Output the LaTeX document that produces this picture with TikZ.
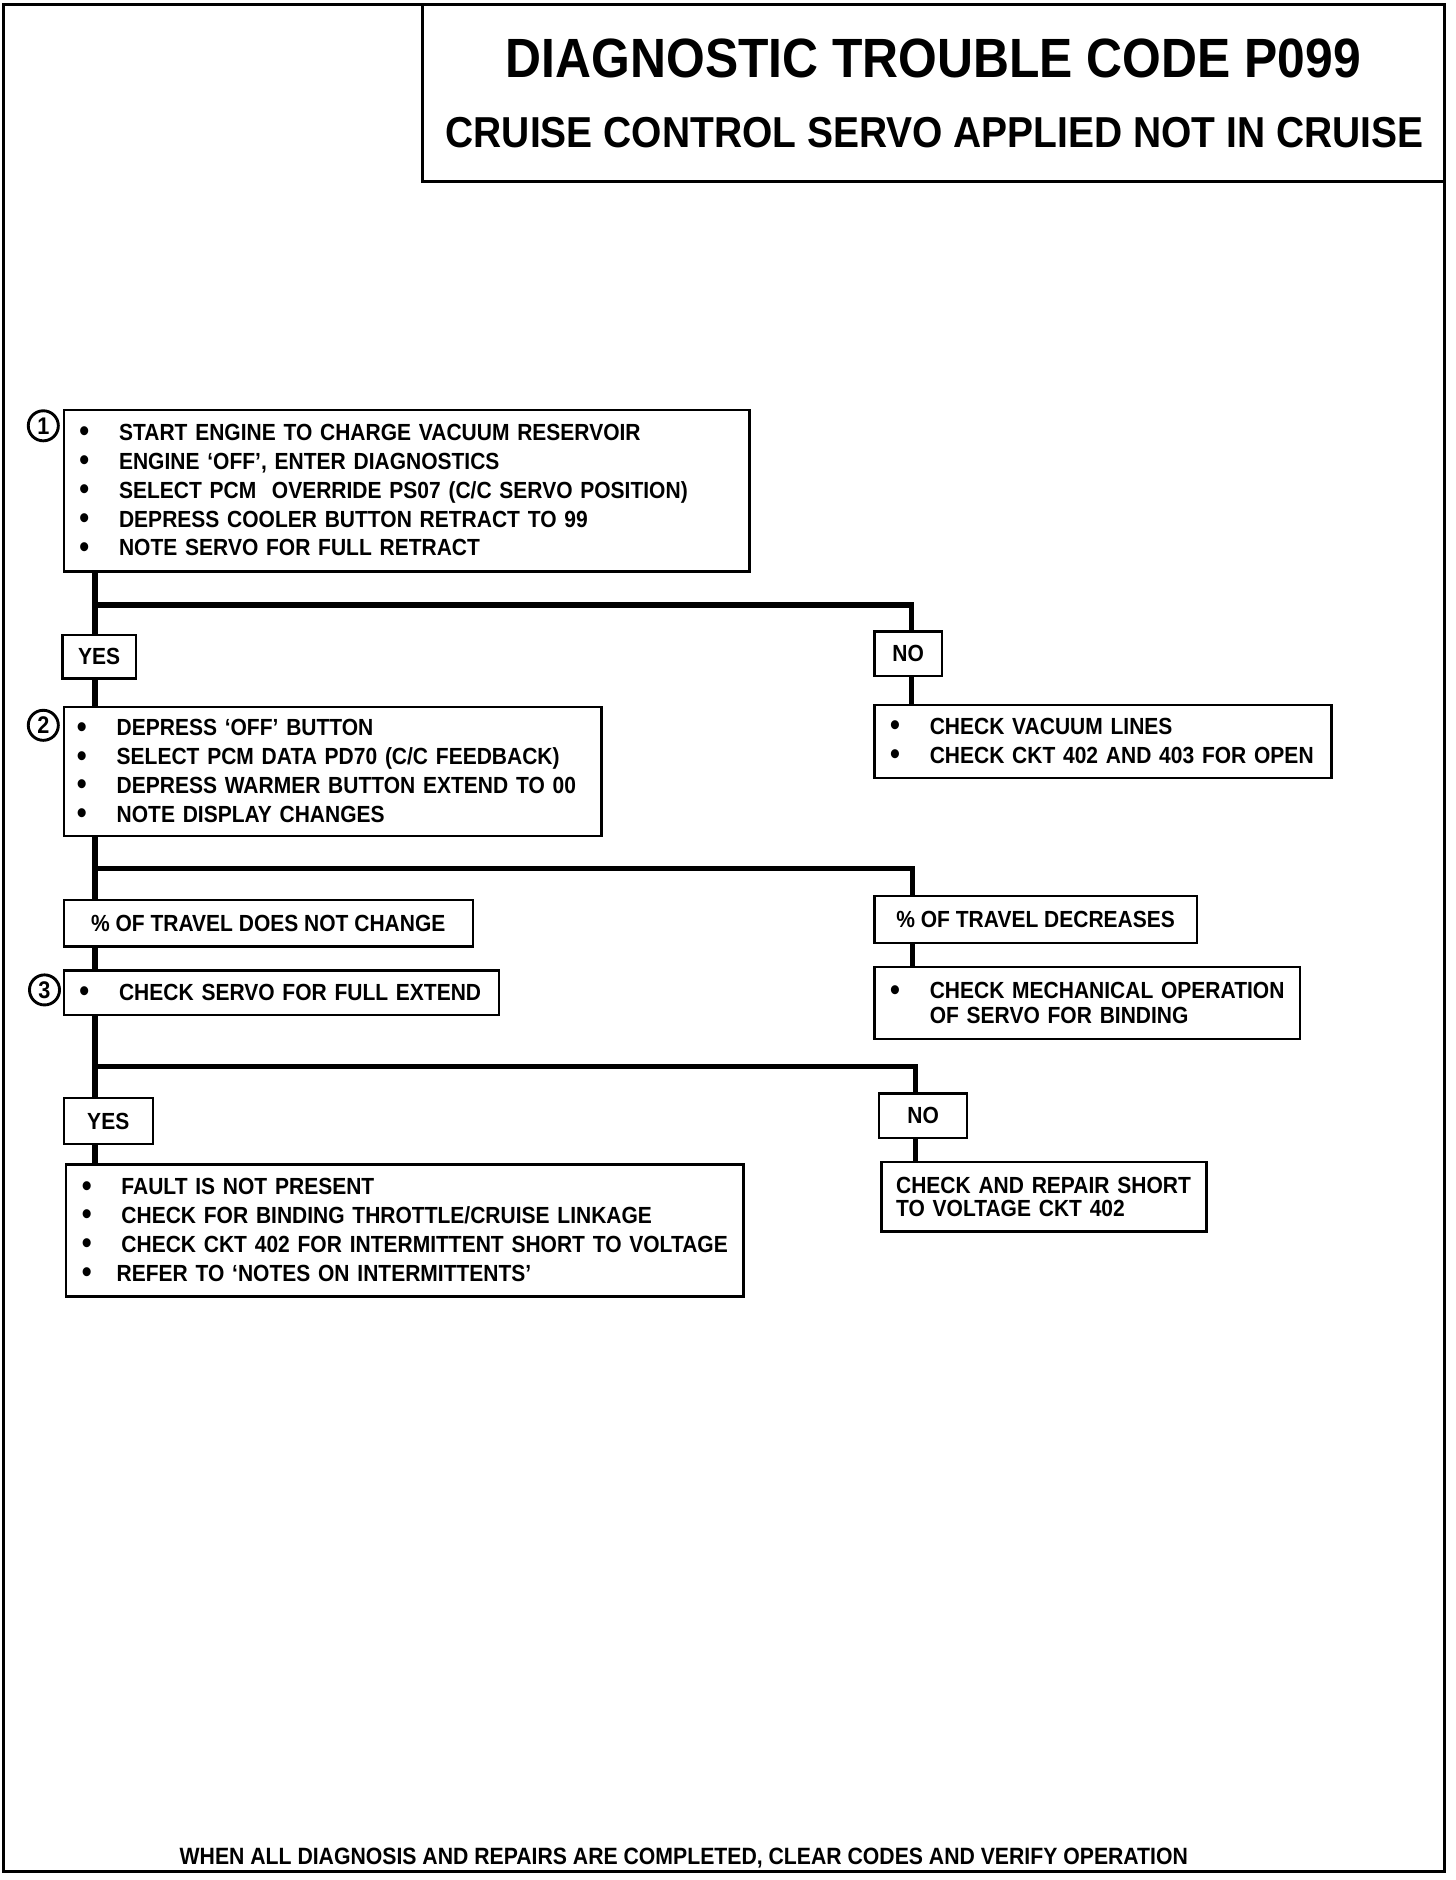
\documentclass[tikz,border=0pt]{standalone}
\usepackage{fontspec}
\newfontfamily\cf{Liberation Sans}[FakeStretch=0.9]
\newcommand{\bdot}{\raisebox{-0.6pt}{\fontsize{13}{12}\selectfont\textbullet}}
\newcommand{\bitem}[1]{\hspace*{6.5pt}\makebox[16.5pt][l]{\bdot}#1}
\begin{document}
\begin{tikzpicture}[x=0.5pt,y=-0.5pt,
  box/.style={draw, line width=1pt, inner sep=0pt, outer sep=0pt, anchor=north west,
    font=\cf\bfseries\fontsize{9.7}{12}\selectfont, align=left},
  lab/.style={draw, line width=1pt, inner sep=0pt, outer sep=0pt,
    font=\cf\bfseries\fontsize{9.7}{12}\selectfont, align=center},
  conn/.style={line width=2.1pt},
  num/.style={draw, circle, line width=1.2pt, inner sep=0pt, minimum size=12.5pt,
    font=\cf\bfseries\fontsize{10}{10}\selectfont}]
\useasboundingbox (0,0) rectangle (1210,1563);
% outer frame
\draw[line width=1.3pt] (3,4) rectangle (1201,1556);
% title box
\node[draw, line width=1.1pt, inner sep=0pt, outer sep=0pt, anchor=north west,
  minimum width=425pt, minimum height=73.5pt] (title) at (351,4) {};
\node[font=\cf\bfseries\fontsize{23}{26}\selectfont, inner sep=0pt] (t1) at (776,49) {DIAGNOSTIC TROUBLE CODE P099};
\node[font=\cf\bfseries\fontsize{18}{20}\selectfont, inner sep=0pt] (t2) at (777,110) {CRUISE CONTROL SERVO APPLIED NOT IN CRUISE};

% step 1
\node[box, text width=285pt, minimum height=67pt] (b1) at (53,341) {%
\bitem{START ENGINE TO CHARGE VACUUM RESERVOIR}\\
\bitem{ENGINE ‘OFF’, ENTER DIAGNOSTICS}\\
\bitem{SELECT PCM\ \ OVERRIDE PS07 (C/C SERVO POSITION)}\\
\bitem{DEPRESS COOLER BUTTON RETRACT TO 99}\\
\bitem{NOTE SERVO FOR FULL RETRACT}};
\node[num] (n1) at (36,354) {1};

\node[lab, minimum width=30.5pt, minimum height=18pt] (yes1) at (82.5,546) {YES};
\node[lab, minimum width=28pt, minimum height=18.5pt] (no1) at (755,543.5) {NO};

% step 2
\node[box, text width=223.5pt, minimum height=53.5pt] (b2) at (53,588) {%
\hspace*{-1pt}\bitem{DEPRESS ‘OFF’ BUTTON}\\
\hspace*{-1pt}\bitem{SELECT PCM DATA PD70 (C/C FEEDBACK)}\\
\hspace*{-1pt}\bitem{DEPRESS WARMER BUTTON EXTEND TO 00}\\
\hspace*{-1pt}\bitem{NOTE DISPLAY CHANGES}};
\node[num] (n2) at (36,603) {2};

\node[box, text width=190pt, minimum height=30.5pt] (r1) at (727,586) {%
\bitem{CHECK VACUUM LINES}\\
\bitem{CHECK CKT 402 AND 403 FOR OPEN}};

\node[lab, minimum width=170pt, minimum height=19.5pt] (tr1) at (223,767.5) {\% OF TRAVEL DOES NOT CHANGE};
\node[lab, minimum width=134pt, minimum height=19.5pt] (tr2) at (861,764.5) {\% OF TRAVEL DECREASES};

% step 3
\node[box, text width=181pt, minimum height=18.5pt] (b3) at (53,807) {%
\bitem{CHECK SERVO FOR FULL EXTEND}};
\node[num] (n3) at (37,823) {3};

\node[box, text width=177pt, minimum height=30pt, font=\cf\bfseries\fontsize{9.7}{10.5}\selectfont] (r2) at (727,804) {%
\bitem{CHECK MECHANICAL OPERATION}\\
\hspace*{23pt}OF SERVO FOR BINDING};

\node[lab, minimum width=37pt, minimum height=19pt] (yes2) at (90,932) {YES};
\node[lab, minimum width=36.5pt, minimum height=18.5pt] (no2) at (767.5,927.5) {NO};

\node[box, text width=281.5pt, minimum height=55pt] (b4) at (55,968) {%
\bitem{FAULT IS NOT PRESENT}\\
\bitem{CHECK FOR BINDING THROTTLE/CRUISE LINKAGE}\\
\bitem{CHECK CKT 402 FOR INTERMITTENT SHORT TO VOLTAGE}\\
\hspace*{6.5pt}\makebox[14.5pt][l]{\bdot}REFER TO ‘NOTES ON INTERMITTENTS’};

\node[box, text width=135pt, minimum height=29pt, font=\cf\bfseries\fontsize{9.7}{9.6}\selectfont] (r3) at (733,966) {%
\hspace*{6pt}CHECK AND REPAIR SHORT\\
\hspace*{6pt}TO VOLTAGE CKT 402};

% footer
\node[font=\cf\bfseries\fontsize{9.8}{10}\selectfont, inner sep=0pt] (foot) at (568.5,1545) {WHEN ALL DIAGNOSIS AND REPAIRS ARE COMPLETED, CLEAR CODES AND VERIFY OPERATION};

% connectors
\coordinate (tx) at (79,0);
\coordinate (br1) at (758,503);
\coordinate (br2) at (759,722);
\coordinate (br3) at (761,887);
\draw[conn] (b1.south -| tx) -- (yes1.north -| tx);
\draw[conn] (yes1.south -| tx) -- (b2.north -| tx);
\draw[conn] (tx |- br1) -- (br1) -- (no1.north -| br1);
\draw[conn] (no1.south -| br1) -- (r1.north -| br1);

\draw[conn] (b2.south -| tx) -- (tr1.north -| tx);
\draw[conn] (tr1.south -| tx) -- (b3.north -| tx);
\draw[conn] (tx |- br2) -- (br2) -- (tr2.north -| br2);
\draw[conn] (tr2.south -| br2) -- (r2.north -| br2);

\draw[conn] (b3.south -| tx) -- (yes2.north -| tx);
\draw[conn] (yes2.south -| tx) -- (b4.north -| tx);
\draw[conn] (tx |- br3) -- (br3) -- (no2.north -| br3);
\draw[conn] (no2.south -| br3) -- (r3.north -| br3);
\end{tikzpicture}
\end{document}
